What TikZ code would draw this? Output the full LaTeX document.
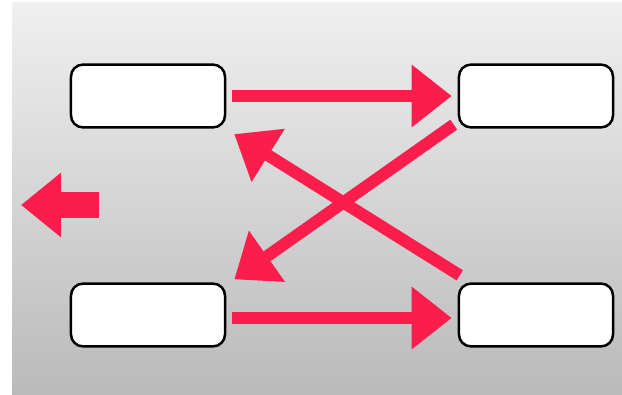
\documentclass[tikz,border=0pt]{standalone}
\usepackage{xcolor}
\usepackage{tikz}
\usetikzlibrary{arrows.meta, positioning, calc}
\definecolor{arrowred}{RGB}{251,30,77}
\tikzset{
  stagebox/.style={
    draw, rounded corners=0.3cm, line width=0.0625cm, fill=white,
    minimum width=3.85cm, minimum height=1.57cm, inner sep=0pt
  },
  flowarrow/.style={-{Triangle[length=1.0cm, width=1.5cm]}, line width=0.3cm, color=arrowred},
  exitarrow/.style={-{Triangle[length=1.0cm, width=1.55cm]}, line width=0.65cm, color=arrowred},
}

\begin{document}
\begin{tikzpicture}[x=0.025cm, y=-0.025cm]
  \useasboundingbox (0,0) rectangle (622,394);
  \fill[white] (0,0) rectangle (622,394);
  \shade[top color=gray!12, bottom color=gray!54] (12,3) rectangle (622,394);

  \node[stagebox] (topleft) at (148,96) {};
  \node[stagebox] (topright) at (536,96) {};
  \node[stagebox] (botleft) at (148,315) {};
  \node[stagebox] (botright) at (536,315) {};

  \coordinate (exitstart) at (99,205);
  \coordinate (exittip) at (21,205);

  \draw[flowarrow, shorten <=0.15cm, shorten >=0.15cm] (topleft.east) -- (topright.west);
  \draw[flowarrow, shorten <=0.15cm, shorten >=0.15cm] ([shift={(0,3)}]botleft.east) -- ([shift={(0,3)}]botright.west);
  \draw[flowarrow] ([shift={(-4,-4)}]topright.south west) -- ([shift={(8,-3)}]botleft.north east);
  \draw[flowarrow] ([shift={(2,-7)}]botright.north west) -- ([shift={(8,5.5)}]topleft.south east);
  \draw[exitarrow] (exitstart) -- (exittip);
\end{tikzpicture}
\end{document}
